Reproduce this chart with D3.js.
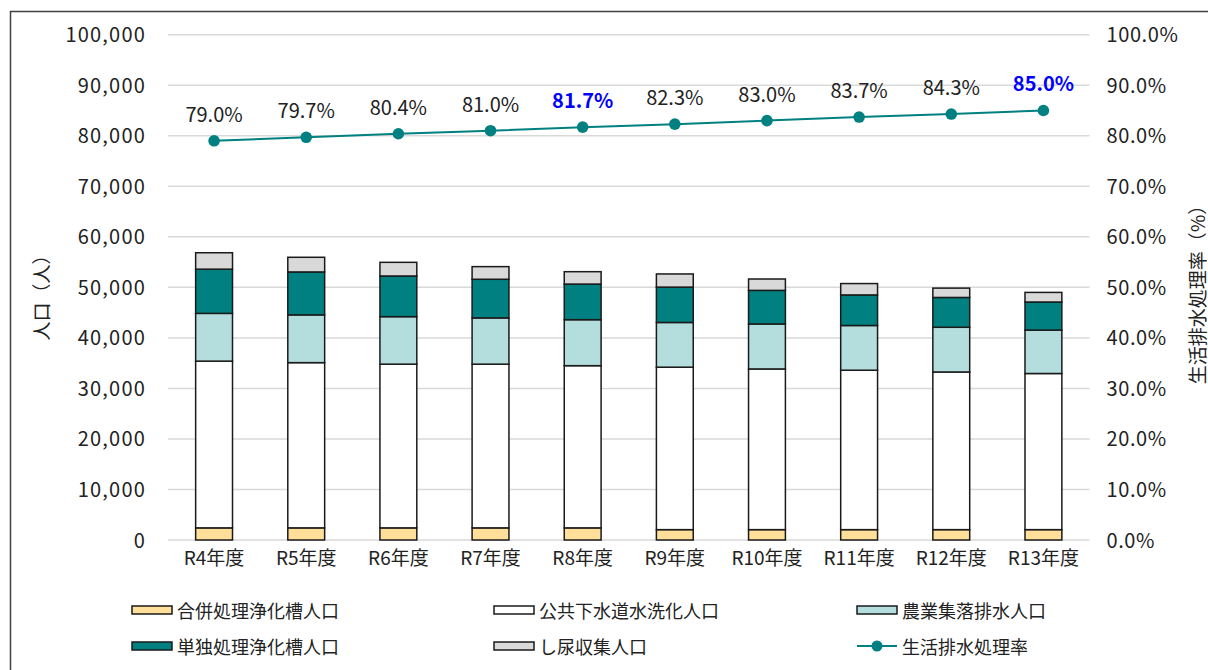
<!DOCTYPE html>
<html>
<head>
<meta charset="utf-8">
<script src="https://cdn.jsdelivr.net/npm/d3@7/dist/d3.min.js"></script>
<style>
  html, body { margin: 0; padding: 0; background: #fff; }
  svg { display: block; }
  text { font-family: "Noto Sans CJK JP", "Noto Sans", sans-serif; fill: #222; }
</style>
</head>
<body>
<svg id="chart" width="1208" height="670"></svg>
<script>
// Fiscal years
const categories = ["R4年度", "R5年度", "R6年度", "R7年度", "R8年度", "R9年度", "R10年度", "R11年度", "R12年度", "R13年度"];

// Population by treatment type (people), stacked bottom to top
const gappei   = [2400, 2400, 2400, 2400, 2400, 2050, 2050, 2050, 2050, 2050];           // 合併処理浄化槽人口
const koukyou  = [33000, 32700, 32400, 32400, 32100, 32150, 31800, 31550, 31200, 30900]; // 公共下水道水洗化人口
const nougyou  = [9450, 9450, 9400, 9150, 9100, 8850, 8900, 8850, 8850, 8600];           // 農業集落排水人口
const tandoku  = [8750, 8500, 8050, 7650, 7050, 7000, 6650, 6050, 5900, 5550];           // 単独処理浄化槽人口
const shinyou  = [3250, 2900, 2700, 2500, 2450, 2600, 2250, 2250, 1850, 1900];           // し尿収集人口

// Domestic wastewater treatment rate (%)
const rate = [79.0, 79.7, 80.4, 81.0, 81.7, 82.3, 83.0, 83.7, 84.3, 85.0];
const highlighted = ["R8年度", "R13年度"];

const leftTicks = [0, 10000, 20000, 30000, 40000, 50000, 60000, 70000, 80000, 90000, 100000];
const rightTicks = [0, 10, 20, 30, 40, 50, 60, 70, 80, 90, 100];

const seriesNames = ["合併処理浄化槽人口", "公共下水道水洗化人口", "農業集落排水人口", "単独処理浄化槽人口", "し尿収集人口"];
const seriesValues = [gappei, koukyou, nougyou, tandoku, shinyou];
const seriesColors = ["#FFDF99", "#FFFFFF", "#B4DEDD", "#008080", "#D9D9D9"];
const lineName = "生活排水処理率";
const lineColor = "#008080";

const svg = d3.select("#chart");

// Outer frame
svg.append("rect")
  .attr("x", 10.5).attr("y", 11.5)
  .attr("width", 1300).attr("height", 700)
  .attr("fill", "none").attr("stroke", "#404040").attr("stroke-width", 1.5);

const plot = { left: 168, right: 1089.5, top: 34.7, bottom: 540 };

const x = d3.scaleBand()
  .domain(categories)
  .range([plot.left, plot.right])
  .paddingInner(0.6)
  .paddingOuter(0.3);

const y = d3.scaleLinear().domain([0, 100000]).range([plot.bottom, plot.top]);
const yr = d3.scaleLinear().domain([0, 100]).range([plot.bottom, plot.top]);

// Gridlines
svg.append("g")
  .selectAll("line")
  .data(leftTicks)
  .join("line")
  .attr("x1", plot.left).attr("x2", plot.right)
  .attr("y1", d => y(d)).attr("y2", d => y(d))
  .attr("stroke", "#D9D9D9").attr("stroke-width", 1.5);

// Left axis
const leftAxis = svg.append("g")
  .attr("transform", `translate(${plot.left - 22},0)`)
  .call(d3.axisLeft(y).tickValues(leftTicks).tickSize(0).tickPadding(0).tickFormat(d3.format(",")));
leftAxis.select(".domain").remove();
leftAxis.selectAll("text")
  .style("font-size", "20px").style("letter-spacing", "1.2px")
  .attr("dy", "0.35em").attr("fill", "#222");

// Right axis
const rightAxis = svg.append("g")
  .attr("transform", `translate(${plot.right + 17},0)`)
  .call(d3.axisRight(yr).tickValues(rightTicks).tickSize(0).tickPadding(0).tickFormat(d => d.toFixed(1) + "%"));
rightAxis.select(".domain").remove();
rightAxis.selectAll("text")
  .style("font-size", "20px").style("letter-spacing", "0.6px")
  .attr("dy", "0.35em").attr("fill", "#222");

// Category axis
const xAxis = svg.append("g")
  .attr("transform", `translate(0,${plot.bottom})`)
  .call(d3.axisBottom(x).tickSize(0).tickPadding(12));
xAxis.select(".domain").remove();
xAxis.selectAll("text")
  .style("font-size", "19px").attr("fill", "#222");

// Axis titles
svg.append("text")
  .attr("transform", "translate(40,293) rotate(-90)")
  .attr("text-anchor", "middle").attr("dominant-baseline", "central")
  .style("font-size", "19px")
  .text("人口（人）");

svg.append("text")
  .attr("transform", "translate(1196,290) rotate(-90)")
  .attr("text-anchor", "middle").attr("dominant-baseline", "central")
  .style("font-size", "19px")
  .text("生活排水処理率（%）");

// Stacked bars
const table = categories.map((c, i) => {
  const row = { cat: c };
  seriesNames.forEach((n, k) => { row[n] = seriesValues[k][i]; });
  return row;
});
const stacked = d3.stack().keys(seriesNames)(table);

svg.append("g")
  .selectAll("g")
  .data(stacked)
  .join("g")
  .attr("fill", (d, k) => seriesColors[k])
  .selectAll("rect")
  .data(d => d)
  .join("rect")
  .attr("x", d => x(d.data.cat))
  .attr("width", x.bandwidth())
  .attr("y", d => y(d[1]))
  .attr("height", d => y(d[0]) - y(d[1]))
  .attr("stroke", "#1a1a1a").attr("stroke-width", 1.5);

// Treatment rate line
const cx = c => x(c) + x.bandwidth() / 2;
svg.append("path")
  .datum(rate)
  .attr("fill", "none").attr("stroke", lineColor).attr("stroke-width", 2)
  .attr("d", d3.line().x((d, i) => cx(categories[i])).y(d => yr(d)));

svg.append("g")
  .selectAll("circle")
  .data(rate)
  .join("circle")
  .attr("cx", (d, i) => cx(categories[i]))
  .attr("cy", d => yr(d))
  .attr("r", 5.8)
  .attr("fill", lineColor);

svg.append("g")
  .selectAll("text")
  .data(rate)
  .join("text")
  .attr("x", (d, i) => cx(categories[i]))
  .attr("y", d => yr(d) - 19)
  .attr("text-anchor", "middle")
  .style("font-size", "20px")
  .style("font-weight", (d, i) => highlighted.includes(categories[i]) ? "bold" : "normal")
  .style("fill", (d, i) => highlighted.includes(categories[i]) ? "#0000FF" : "#222")
  .text(d => d.toFixed(1) + "%");

// Legend
const legendItems = [
  { name: seriesNames[0], color: seriesColors[0], x: 132, y: 610, type: "box" },
  { name: seriesNames[1], color: seriesColors[1], x: 494, y: 610, type: "box" },
  { name: seriesNames[2], color: seriesColors[2], x: 857, y: 610, type: "box" },
  { name: seriesNames[3], color: seriesColors[3], x: 132, y: 646, type: "box" },
  { name: seriesNames[4], color: seriesColors[4], x: 494, y: 646, type: "box" },
  { name: lineName, color: lineColor, x: 857, y: 646, type: "line" }
];

const legend = svg.append("g")
  .selectAll("g")
  .data(legendItems)
  .join("g")
  .attr("transform", d => `translate(${d.x},${d.y})`);

legend.filter(d => d.type === "box")
  .append("rect")
  .attr("x", 0).attr("y", -4).attr("width", 40).attr("height", 8)
  .attr("fill", d => d.color).attr("stroke", "#1a1a1a").attr("stroke-width", 1.5);

const lineItems = legend.filter(d => d.type === "line");
lineItems.append("line")
  .attr("x1", 0).attr("x2", 40).attr("y1", 0).attr("y2", 0)
  .attr("stroke", d => d.color).attr("stroke-width", 2);
lineItems.append("circle")
  .attr("cx", 20).attr("cy", 0).attr("r", 5.5)
  .attr("fill", d => d.color);

legend.append("text")
  .attr("x", 45).attr("y", 0)
  .attr("dominant-baseline", "central")
  .style("font-size", "18px")
  .text(d => d.name);
</script>
</body>
</html>
